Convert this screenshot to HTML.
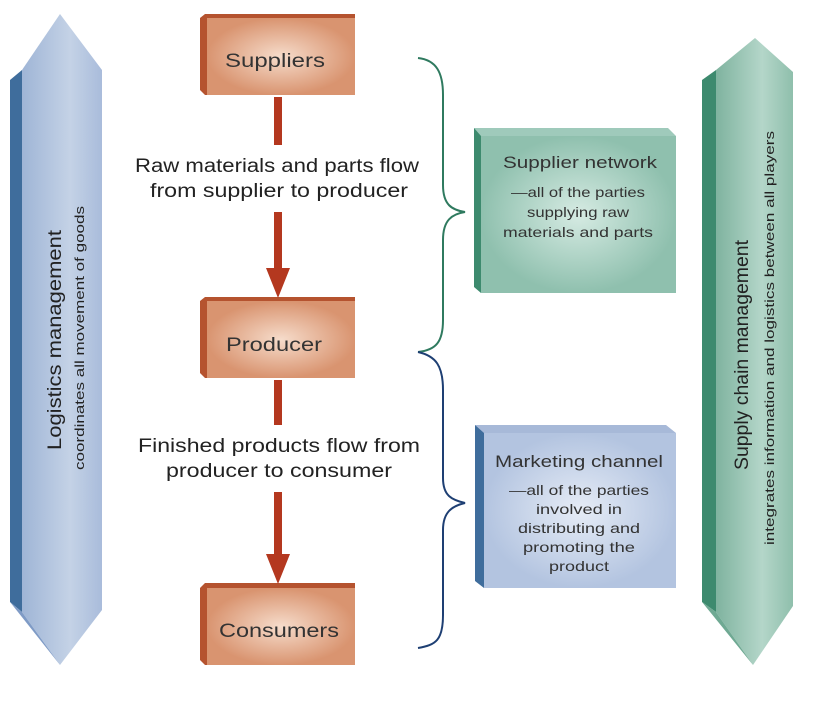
<!DOCTYPE html>
<html><head><style>
html,body{margin:0;padding:0;background:#fff;}
svg{display:block;font-family:"Liberation Sans",sans-serif;}
</style></head><body>
<svg width="816" height="708" viewBox="0 0 816 708" xmlns="http://www.w3.org/2000/svg">
<defs>
<linearGradient id="lb" x1="0" x2="1"><stop offset="0" stop-color="#9fb5d6"/><stop offset="0.6" stop-color="#c4d2e6"/><stop offset="1" stop-color="#a9bcdb"/></linearGradient>
<linearGradient id="rg" x1="0" x2="1"><stop offset="0" stop-color="#7fb39f"/><stop offset="0.6" stop-color="#b4d6c9"/><stop offset="1" stop-color="#8fbfac"/></linearGradient>
<radialGradient id="br"><stop offset="0" stop-color="#f6dccb"/><stop offset="1" stop-color="#d99470"/></radialGradient>
<radialGradient id="gn"><stop offset="0" stop-color="#d6ebe3"/><stop offset="1" stop-color="#8fc0ae"/></radialGradient>
<radialGradient id="bl"><stop offset="0" stop-color="#e6ecf6"/><stop offset="1" stop-color="#b3c4e0"/></radialGradient>
</defs>
<polygon points="10,80 22,70 22,612 10,602" fill="#3f6d9c"/>
<polygon points="22,70 60,14 102,70 102,610 60,665 22,612" fill="url(#lb)"/>
<polygon points="10,602 22,612 60,665" fill="#7f9bc6"/>
<text transform="translate(61,340) rotate(-90)" text-anchor="middle" font-size="19" fill="#222" textLength="220" lengthAdjust="spacingAndGlyphs">Logistics management</text>
<text transform="translate(84,338) rotate(-90)" text-anchor="middle" font-size="13" fill="#222" textLength="264" lengthAdjust="spacingAndGlyphs">coordinates all movement of goods</text>
<polygon points="702,80 716,70 716,612 702,602" fill="#3d8a6e"/>
<polygon points="716,70 755,38 793,72 793,606 753,665 716,612" fill="url(#rg)"/>
<polygon points="702,602 716,612 753,665" fill="#6fa993"/>
<text transform="translate(748,355) rotate(-90)" text-anchor="middle" font-size="19" fill="#222" textLength="230" lengthAdjust="spacingAndGlyphs">Supply chain management</text>
<text transform="translate(774,338) rotate(-90)" text-anchor="middle" font-size="13" fill="#222" textLength="414" lengthAdjust="spacingAndGlyphs">integrates information and logistics between all players</text>
<g>
<polygon points="200,18 205,14 355,14 355,95 205,95 200,90" fill="#b5532f"/>
<rect x="207" y="18" width="148" height="77" fill="url(#br)"/>
<text x="275" y="67" text-anchor="middle" font-size="19" fill="#333" textLength="100" lengthAdjust="spacingAndGlyphs">Suppliers</text>
<polygon points="200,301 205,297 355,297 355,378 205,378 200,373" fill="#b5532f"/>
<rect x="207" y="301" width="148" height="77" fill="url(#br)"/>
<text x="274" y="351" text-anchor="middle" font-size="19" fill="#333" textLength="96" lengthAdjust="spacingAndGlyphs">Producer</text>
<polygon points="200,588 205,583 355,583 355,665 205,665 200,660" fill="#b5532f"/>
<rect x="207" y="588" width="148" height="77" fill="url(#br)"/>
<text x="279" y="637" text-anchor="middle" font-size="19" fill="#333" textLength="120" lengthAdjust="spacingAndGlyphs">Consumers</text>
</g>
<g fill="#b4381f">
<rect x="274" y="97" width="8" height="48"/>
<rect x="274" y="212" width="8" height="58"/>
<polygon points="266,268 290,268 278,298"/>
<rect x="274" y="380" width="8" height="45"/>
<rect x="274" y="492" width="8" height="64"/>
<polygon points="266,554 290,554 278,584"/>
</g>
<text x="277" y="172" text-anchor="middle" font-size="19" fill="#222" textLength="284" lengthAdjust="spacingAndGlyphs">Raw materials and parts flow</text>
<text x="279" y="197" text-anchor="middle" font-size="19" fill="#222" textLength="258" lengthAdjust="spacingAndGlyphs">from supplier to producer</text>
<text x="279" y="452" text-anchor="middle" font-size="19" fill="#222" textLength="282" lengthAdjust="spacingAndGlyphs">Finished products flow from</text>
<text x="279" y="477" text-anchor="middle" font-size="19" fill="#222" textLength="226" lengthAdjust="spacingAndGlyphs">producer to consumer</text>
<path d="M418,58 C436,60 443,72 443,95 L443,185 C443,205 452,210 465,212 C452,214 443,220 443,240 L443,320 C443,342 436,350 418,352" fill="none" stroke="#2f7a5f" stroke-width="2"/>
<path d="M418,352 C436,356 443,366 443,390 L443,478 C443,496 452,500 465,503 C452,506 443,512 443,530 L443,615 C443,640 436,645 418,648" fill="none" stroke="#1e3f73" stroke-width="2"/>
<polygon points="474,128 481,133 481,293 474,287" fill="#3d8a6e"/>
<polygon points="474,128 668,128 676,136 481,136" fill="#9fcabb"/>
<rect x="481" y="136" width="195" height="157" fill="url(#gn)"/>
<text x="580" y="168" text-anchor="middle" font-size="16.5" fill="#333" textLength="154" lengthAdjust="spacingAndGlyphs">Supplier network</text>
<text x="578" y="197" text-anchor="middle" font-size="14" fill="#333" textLength="134" lengthAdjust="spacingAndGlyphs">—all of the parties</text>
<text x="578" y="217" text-anchor="middle" font-size="14" fill="#333" textLength="102" lengthAdjust="spacingAndGlyphs">supplying raw</text>
<text x="578" y="237" text-anchor="middle" font-size="14" fill="#333" textLength="150" lengthAdjust="spacingAndGlyphs">materials and parts</text>
<polygon points="475,425 484,431 484,588 475,581" fill="#3f6d9c"/>
<polygon points="475,425 666,425 676,433 484,433" fill="#a7b9d8"/>
<rect x="484" y="433" width="192" height="155" fill="url(#bl)"/>
<text x="579" y="467" text-anchor="middle" font-size="16.5" fill="#333" textLength="168" lengthAdjust="spacingAndGlyphs">Marketing channel</text>
<text x="579" y="495" text-anchor="middle" font-size="14" fill="#333" textLength="140" lengthAdjust="spacingAndGlyphs">—all of the parties</text>
<text x="579" y="514" text-anchor="middle" font-size="14" fill="#333" textLength="86" lengthAdjust="spacingAndGlyphs">involved in</text>
<text x="579" y="533" text-anchor="middle" font-size="14" fill="#333" textLength="122" lengthAdjust="spacingAndGlyphs">distributing and</text>
<text x="579" y="552" text-anchor="middle" font-size="14" fill="#333" textLength="112" lengthAdjust="spacingAndGlyphs">promoting the</text>
<text x="579" y="571" text-anchor="middle" font-size="14" fill="#333" textLength="60" lengthAdjust="spacingAndGlyphs">product</text>
</svg>
</body></html>
